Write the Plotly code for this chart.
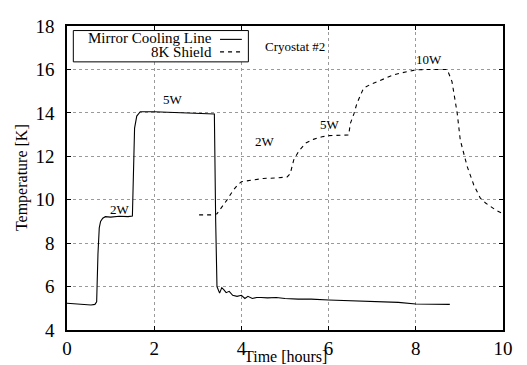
import plotly.graph_objects as go

# Mirror Cooling Line (solid)
mirror_t = [0.0, 0.2, 0.4, 0.55, 0.64, 0.68, 0.71, 0.74, 0.77, 0.82, 0.88, 1.0, 1.2, 1.4, 1.5, 1.52,
            1.55, 1.6, 1.68, 2.0, 2.5, 3.0, 3.38, 3.41, 3.44, 3.5, 3.55, 3.6, 3.65, 3.72, 3.8, 3.9,
            4.0, 4.08, 4.15, 4.25, 4.35, 4.45, 4.6, 4.8, 5.0, 5.3, 5.6, 6.0, 6.3, 6.6, 7.0, 7.3,
            7.6, 8.0, 8.4, 8.78]
mirror_T = [5.23, 5.2, 5.18, 5.15, 5.18, 5.3, 7.5, 8.7, 9.0, 9.15, 9.22, 9.2, 9.24, 9.22, 9.25, 11.5,
            13.3, 13.85, 14.05, 14.05, 14.02, 14.0, 13.95, 9.0, 6.0, 5.7, 5.95, 5.85, 5.72, 5.78, 5.6, 5.55,
            5.6, 5.45, 5.55, 5.45, 5.5, 5.5, 5.48, 5.5, 5.45, 5.42, 5.42, 5.38, 5.36, 5.33, 5.3, 5.28,
            5.27, 5.2, 5.2, 5.18]

# 8K Shield (dashed)
shield_t = [3.03, 3.3, 3.44, 3.55, 3.67, 3.8, 3.9, 4.0, 4.2, 4.5, 4.8, 5.05, 5.12, 5.2, 5.32, 5.47,
            5.65, 5.85, 6.0, 6.2, 6.46, 6.5, 6.58, 6.65, 6.8, 6.95, 7.11, 7.3, 7.49, 7.65, 7.8, 8.0,
            8.3, 8.55, 8.72, 8.83, 8.95, 9.02, 9.18, 9.33, 9.48, 9.6, 9.71, 9.85, 9.98]
shield_T = [9.3, 9.3, 9.35, 9.65, 9.99, 10.4, 10.65, 10.83, 10.9, 10.98, 11.0, 11.05, 11.2, 11.83, 12.25, 12.6,
            12.78, 12.9, 12.95, 12.95, 12.98, 13.52, 13.95, 14.44, 15.13, 15.3, 15.44, 15.6, 15.75, 15.83, 15.9, 15.98,
            16.0, 16.0, 16.0, 15.44, 13.98, 12.75, 11.52, 10.68, 10.07, 9.85, 9.68, 9.5, 9.37]

label_text = ["2W", "5W", "2W", "5W", "10W"]
label_t = [1.22, 2.44, 4.55, 6.04, 8.3]
label_T = [9.55, 14.6, 12.7, 13.45, 16.45]

x_ticks = [0, 2, 4, 6, 8, 10]
y_ticks = [4, 6, 8, 10, 12, 14, 16, 18]

FONT = "'Liberation Serif', 'Times New Roman', serif"

fig = go.Figure()
fig.add_trace(go.Scatter(x=mirror_t, y=mirror_T, mode="lines",
                         line=dict(color="black", width=1.1), name="Mirror Cooling Line",
                         showlegend=False))
fig.add_trace(go.Scatter(x=shield_t, y=shield_T, mode="lines",
                         line=dict(color="black", width=1.1, dash="4px,4px"), name="8K Shield",
                         showlegend=False))

for txt, tx, ty in zip(label_text, label_t, label_T):
    fig.add_annotation(x=tx, y=ty, text=txt, showarrow=False,
                       font=dict(family=FONT, size=13, color="black"))

fig.add_annotation(x=5.24, y=17.05, text="Cryostat #2", showarrow=False,
                   font=dict(family=FONT, size=13, color="black"))

# axis titles
fig.add_annotation(xref="paper", yref="paper", x=0.5, y=-0.087, xanchor="center", yanchor="middle",
                   text="Time [hours]", showarrow=False,
                   font=dict(family=FONT, size=16, color="black"))
fig.add_annotation(xref="paper", yref="paper", x=-0.103, y=0.5, xanchor="center", yanchor="middle",
                   text="Temperature [K]", showarrow=False, textangle=-90,
                   font=dict(family=FONT, size=16, color="black"))

# legend (drawn manually: text left of sample line)
fig.add_shape(type="rect", xref="paper", yref="paper", x0=0.0145, x1=0.416, y0=0.882, y1=0.985,
              line=dict(color="black", width=1), fillcolor="white")
fig.add_annotation(xref="paper", yref="paper", x=0.337, y=0.959, xanchor="right", yanchor="middle",
                   text="Mirror Cooling Line", showarrow=False,
                   font=dict(family=FONT, size=15, color="black"))
fig.add_annotation(xref="paper", yref="paper", x=0.337, y=0.913, xanchor="right", yanchor="middle",
                   text="8K Shield", showarrow=False,
                   font=dict(family=FONT, size=15, color="black"))
fig.add_shape(type="line", xref="paper", yref="paper", x0=0.351, x1=0.401, y0=0.956, y1=0.956,
              line=dict(color="black", width=1.1))
fig.add_shape(type="line", xref="paper", yref="paper", x0=0.351, x1=0.401, y0=0.915, y1=0.915,
              line=dict(color="black", width=1.1, dash="4px,4px"))

axis_common = dict(showline=True, linecolor="black", linewidth=1.5, mirror="allticks",
                   ticks="inside", ticklen=4, tickcolor="black", showgrid=True,
                   gridcolor="#9a9a9a", griddash="dot", gridwidth=1, zeroline=False,
                   automargin=False,
                   tickfont=dict(family=FONT, size=19, color="black"))

fig.update_xaxes(range=[0, 10], tickvals=x_ticks, ticktext=[str(v) for v in x_ticks],
                 **axis_common)
fig.update_yaxes(range=[4, 18], tickvals=y_ticks, ticktext=[str(v) for v in y_ticks],
                 ticklabelstandoff=7, **axis_common)

# page body has an 8px margin, so the figure is shifted 8px right and down
fig.update_layout(width=519, height=357, margin=dict(l=59, r=24, t=18, b=35),
                  plot_bgcolor="white", paper_bgcolor="white", showlegend=False,
                  font=dict(family=FONT))

fig.write_html("out.html")
